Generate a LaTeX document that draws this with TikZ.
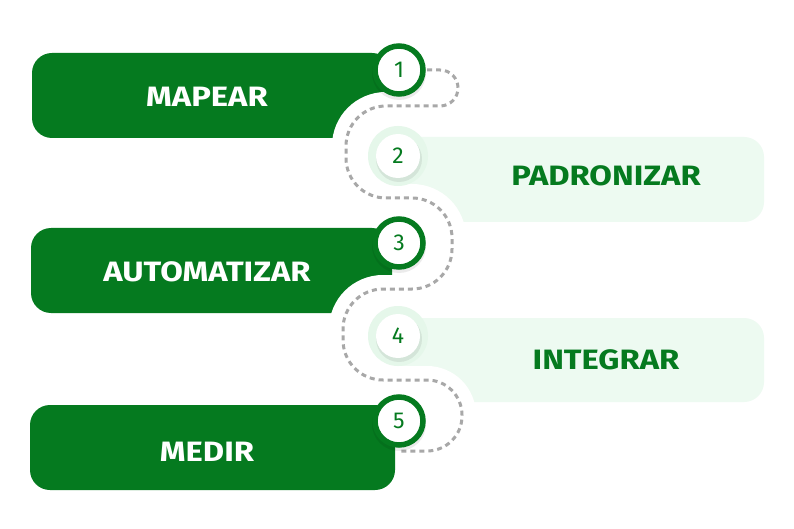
\documentclass[tikz,border=0pt]{standalone}
\usepackage{fontspec}
\setmainfont{Fira Sans}
\newfontfamily\boxfont[FakeStretch=1.17]{Fira Sans}
\definecolor{dkgreen}{HTML}{057A1F}
\definecolor{ltgreen}{HTML}{EDFAF1}
\definecolor{halogreen}{HTML}{E5F7EA}
\definecolor{dotgray}{HTML}{A8A8A8}
\tikzset{
  darkbox/.style={fill=dkgreen, rounded corners=20pt, inner sep=0pt},
  lightbox/.style={fill=ltgreen, rounded corners=20pt, inner sep=0pt},
  darktext/.style={text=white, font=\boxfont\bfseries\fontsize{28}{30}\selectfont, inner sep=0pt},
  lighttext/.style={text=dkgreen, font=\boxfont\bfseries\fontsize{28}{30}\selectfont, inner sep=0pt},
  ringcircle/.style={circle, fill=white, draw=dkgreen, line width=5.5pt, minimum size=48pt, inner sep=0pt,
     text=dkgreen, font=\fontsize{23}{24}\selectfont},
  halocircle/.style={circle, fill=white, minimum size=44pt, inner sep=0pt,
     text=dkgreen, font=\fontsize{23}{24}\selectfont},
  band/.style={white, line width=28pt},
  dots/.style={dotgray, line width=3pt, dash pattern=on 5pt off 4pt}
}
\begin{document}
\begin{tikzpicture}[x=1pt,y=-1pt]
\useasboundingbox[fill=white] (0,0) rectangle (794,529);

% boxes
\node[darkbox, minimum width=360pt, minimum height=85pt] (b1) at (212,95.5) {};
\node[lightbox, minimum width=366pt, minimum height=85pt] (b2) at (581,179.5) {};
\node[darkbox, minimum width=361pt, minimum height=85pt] (b3) at (211.5,270.5) {};
\node[lightbox, minimum width=366pt, minimum height=84pt] (b4) at (581,360) {};
\node[darkbox, minimum width=365pt, minimum height=85pt] (b5) at (212.5,447.5) {};

% white snake band
\path[save path=\snakepath]
  (427,70) -- (440,70)
  .. controls (450,70) and (458,78) .. (458,88)
  .. controls (458,98) and (450,106) .. (440,106)
  -- (386,106)
  .. controls (363.9,106) and (346,123.9) .. (346,146)
  -- (346,158)
  .. controls (346,180.1) and (363.9,198) .. (386,198)
  -- (412,198)
  .. controls (434.1,198) and (452,215.9) .. (452,238)
  -- (452,249)
  .. controls (452,271.1) and (434.1,289) .. (412,289)
  -- (383,289)
  .. controls (360.9,289) and (343,306.9) .. (343,329)
  -- (343,340)
  .. controls (343,362.1) and (360.9,380) .. (383,380)
  -- (427,380)
  .. controls (446.3,380) and (462,395.7) .. (462,415)
  -- (462,416)
  .. controls (462,435.3) and (446.3,451) .. (427,451)
  -- (398,451);
\draw[band, use path=\snakepath];
\fill[white] (398,106) -- (386,106)
  .. controls (363.9,106) and (346,123.9) .. (346,146) -- (346,158)
  .. controls (346,180.1) and (363.9,198) .. (386,198) -- (398,198) -- cycle;
\fill[white] (398,198) -- (412,198)
  .. controls (434.1,198) and (452,215.9) .. (452,238) -- (452,249)
  .. controls (452,271.1) and (434.1,289) .. (412,289) -- (398,289) -- cycle;
\fill[white] (398,289) -- (383,289)
  .. controls (360.9,289) and (343,306.9) .. (343,329) -- (343,340)
  .. controls (343,362.1) and (360.9,380) .. (383,380) -- (398,380) -- cycle;
\fill[white] (398,380) -- (427,380)
  .. controls (446.3,380) and (462,395.7) .. (462,415) -- (462,416)
  .. controls (462,435.3) and (446.3,451) .. (427,451) -- (398,451) -- cycle;

% dotted connector
\draw[dots, use path=\snakepath];

% halos and shadows
\fill[halogreen] (398,156) circle[radius=30pt];
\fill[halogreen] (398,336) circle[radius=30pt];
\fill[black, opacity=0.07] (399,159) circle[radius=23pt];
\fill[black, opacity=0.07] (399,339) circle[radius=23pt];
\fill[black, opacity=0.08] (399,73) circle[radius=27pt];
\fill[black, opacity=0.08] (399,246) circle[radius=27pt];
\fill[black, opacity=0.08] (399,424) circle[radius=27pt];

% circles
\node[ringcircle] (c1) at (399,70) {1};
\node[halocircle] (c2) at (398,156) {2};
\node[ringcircle] (c3) at (399,243) {3};
\node[halocircle] (c4) at (398,336) {4};
\node[ringcircle] (c5) at (399,421) {5};

% labels
\node[darktext] (t1) at (207,97) {MAPEAR};
\node[lighttext] (t2) at (606,176) {PADRONIZAR};
\node[darktext] (t3) at (207,272) {AUTOMATIZAR};
\node[lighttext] (t4) at (606,360) {INTEGRAR};
\node[darktext] (t5) at (207,452) {MEDIR};
\end{tikzpicture}
\end{document}
